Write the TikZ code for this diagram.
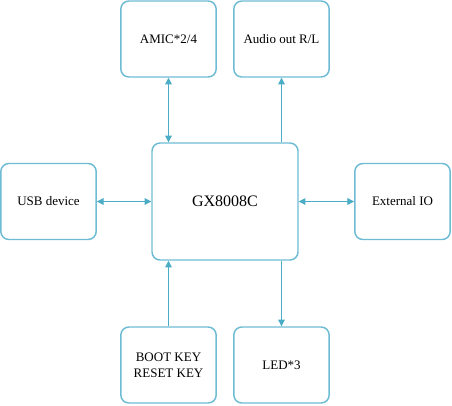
\documentclass[tikz,border=0pt]{standalone}
\usepackage{fontspec}
\setmainfont{Liberation Serif}
\usetikzlibrary{arrows.meta}
\definecolor{boxc}{RGB}{110,188,212}
\definecolor{arrc}{RGB}{75,172,198}
\tikzset{
  blk/.style={draw=boxc, line width=1.1pt, rounded corners=6pt, fill=white,
    minimum width=71.5pt, minimum height=57pt, inner sep=0pt, align=center,
    font=\fontsize{9.75pt}{12pt}\selectfont},
  conn/.style={draw=arrc, line width=0.75pt},
  tip/.style={-{Triangle[length=5pt,width=5pt]}},
  tips/.style={{Triangle[length=5pt,width=5pt]}-{Triangle[length=5pt,width=5pt]}},
}
\begin{document}
\begin{tikzpicture}[x=0.75pt,y=-0.75pt]
\useasboundingbox (0,0) rectangle (452,405);
\node[blk] (amic) at (168.5,39) {AMIC*2/4};
\node[blk] (audio) at (281.5,39) {Audio out R/L};
\node[blk, minimum width=109.5pt, minimum height=87.75pt, font=\fontsize{12pt}{14pt}\selectfont] (main) at (225,201.5) {GX8008C};
\node[blk] (usb) at (48.5,201.5) {USB device};
\node[blk] (ext) at (402.5,201.5) {External IO};
\node[blk] (boot) at (168.5,365) {BOOT KEY\\RESET KEY};
\node[blk] (led) at (281.5,365) {LED*3};
\draw[conn,tips] (amic.south) -- (amic.south |- main.north);
\draw[conn,tip] (audio.south |- main.north) -- (audio.south);
\draw[conn,tips] (usb.east) -- (usb.east -| main.west);
\draw[conn,tips] (main.east |- ext.west) -- (ext.west);
\draw[conn,tip] (boot.north) -- (boot.north |- main.south);
\draw[conn,tip] (led.north |- main.south) -- (led.north);
\end{tikzpicture}
\end{document}
